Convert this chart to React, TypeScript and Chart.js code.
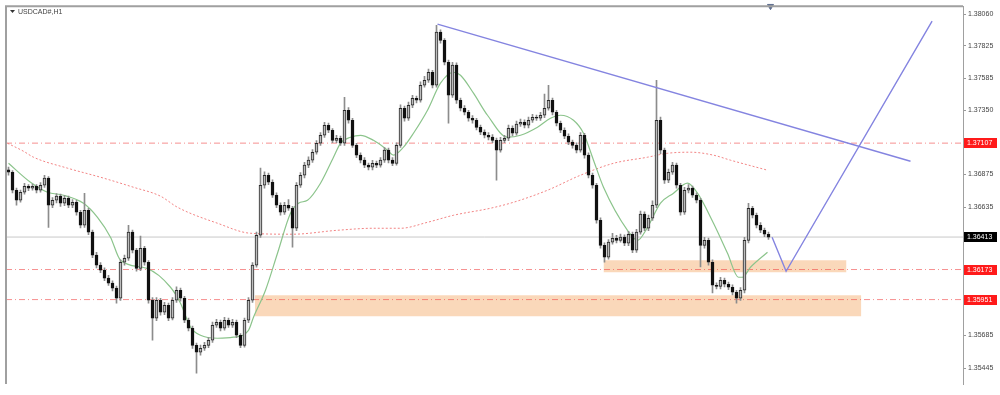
import React, { useEffect, useRef } from "react";
import { Chart, registerables } from "chart.js";

Chart.register(...registerables);

// ---- Candles (USDCAD#, H1) ----
const opens = [
  1.36910,1.36892,1.36759,1.36685,1.36744,1.36788,1.36774,1.36788,1.36759,1.36796,
  1.36848,1.36648,1.36685,1.36715,1.36663,1.36700,1.36648,1.36670,1.36596,1.36500,
  1.36611,1.36449,1.36279,1.36205,1.36168,1.36109,1.36072,1.36035,1.35961,1.36227,
  1.36256,1.36449,1.36316,1.36182,1.36330,1.36227,1.35946,1.35813,1.35946,1.35857,
  1.35909,1.35813,1.35946,1.36020,1.35961,1.35798,1.35739,1.35613,1.35562,1.35591,
  1.35613,1.35650,1.35761,1.35783,1.35739,1.35798,1.35761,1.35783,1.35687,1.35613,
  1.35798,1.35946,1.36205,1.36426,1.36796,1.36870,1.36818,1.36722,1.36648,1.36596,
  1.36648,1.36626,1.36478,1.36796,1.36870,1.36944,1.36981,1.37040,1.37106,1.37165,
  1.37239,1.37202,1.37128,1.37143,1.37106,1.37350,1.37276,1.37091,1.37018,1.36981,
  1.36944,1.36929,1.36958,1.36944,1.36981,1.37055,1.36981,1.36958,1.37091,1.37365,
  1.37291,1.37387,1.37439,1.37424,1.37535,1.37572,1.37631,1.37535,1.37927,1.37867,
  1.37705,1.37461,1.37683,1.37424,1.37365,1.37335,1.37291,1.37276,1.37224,1.37188,
  1.37165,1.37151,1.37128,1.37055,1.37128,1.37143,1.37217,1.37180,1.37247,1.37261,
  1.37239,1.37276,1.37298,1.37291,1.37313,1.37365,1.37424,1.37335,1.37254,1.37202,
  1.37158,1.37114,1.37091,1.37055,1.37165,1.37018,1.36870,1.36796,1.36537,1.36352,
  1.36264,1.36375,1.36404,1.36389,1.36412,1.36367,1.36434,1.36316,1.36449,1.36582,
  1.36478,1.36552,1.36648,1.37276,1.37055,1.36833,1.36892,1.36944,1.36796,1.36596,
  1.36759,1.36774,1.36722,1.36685,1.36352,1.36389,1.36227,1.36057,1.36049,1.36094,
  1.36064,1.36042,1.36005,1.35961,1.36020,1.36389,1.36626,1.36574,1.36500,1.36463,
  1.36434,
];
const highs = [
  1.36930,1.36905,1.36775,1.36760,1.36810,1.36800,1.36805,1.36800,1.36815,1.36870,
  1.36860,1.36705,1.36735,1.36730,1.36720,1.36715,1.36690,1.36685,1.36610,1.36737,
  1.36625,1.36465,1.36300,1.36225,1.36185,1.36130,1.36090,1.36050,1.36245,1.36280,
  1.36500,1.36465,1.36330,1.36420,1.36345,1.36240,1.35965,1.35965,1.35960,1.35930,
  1.35925,1.35965,1.36045,1.36035,1.35975,1.35815,1.35755,1.35630,1.35615,1.35635,
  1.35670,1.35785,1.35805,1.35800,1.35820,1.35815,1.35805,1.35800,1.35700,1.35815,
  1.35965,1.36225,1.36450,1.36922,1.36895,1.36885,1.36835,1.36740,1.36665,1.36670,
  1.36690,1.36640,1.36815,1.36890,1.36965,1.37005,1.37060,1.37125,1.37185,1.37260,
  1.37255,1.37215,1.37165,1.37160,1.37446,1.37370,1.37290,1.37105,1.37035,1.37000,
  1.36960,1.36980,1.36975,1.37000,1.37075,1.37070,1.37000,1.37110,1.37390,1.37380,
  1.37410,1.37460,1.37455,1.37560,1.37600,1.37655,1.37645,1.37978,1.37945,1.37880,
  1.37720,1.37705,1.37700,1.37440,1.37385,1.37350,1.37310,1.37290,1.37240,1.37205,
  1.37185,1.37170,1.37145,1.37150,1.37165,1.37240,1.37235,1.37270,1.37285,1.37280,
  1.37300,1.37320,1.37315,1.37335,1.37470,1.37535,1.37440,1.37350,1.37270,1.37220,
  1.37175,1.37130,1.37110,1.37185,1.37180,1.37035,1.36885,1.36810,1.36555,1.36370,
  1.36395,1.36440,1.36425,1.36435,1.36430,1.36455,1.36450,1.36470,1.36605,1.36600,
  1.36575,1.36680,1.37572,1.37300,1.37070,1.36915,1.36965,1.36960,1.36810,1.36780,
  1.36800,1.36790,1.36740,1.36700,1.36410,1.36405,1.36245,1.36075,1.36115,1.36110,
  1.36080,1.36060,1.36020,1.36040,1.36410,1.36663,1.36640,1.36590,1.36520,1.36480,
  1.36450,
];
const lows = [
  1.36870,1.36740,1.36648,1.36670,1.36730,1.36755,1.36760,1.36740,1.36745,1.36780,
  1.36485,1.36630,1.36665,1.36640,1.36645,1.36630,1.36630,1.36575,1.36480,1.36485,
  1.36430,1.36260,1.36185,1.36150,1.36090,1.36055,1.36015,1.35924,1.35945,1.36205,
  1.36240,1.36295,1.36160,1.36165,1.36205,1.35925,1.35650,1.35795,1.35835,1.35840,
  1.35795,1.35800,1.35930,1.35940,1.35780,1.35720,1.35590,1.35407,1.35540,1.35575,
  1.35595,1.35635,1.35745,1.35720,1.35725,1.35745,1.35745,1.35670,1.35595,1.35600,
  1.35780,1.35930,1.36190,1.36410,1.36775,1.36800,1.36705,1.36630,1.36575,1.36580,
  1.36610,1.36338,1.36460,1.36780,1.36850,1.36925,1.36965,1.37025,1.37090,1.37150,
  1.37185,1.37110,1.37110,1.37090,1.37090,1.37255,1.37075,1.37000,1.36960,1.36925,
  1.36910,1.36910,1.36925,1.36930,1.36965,1.36960,1.36940,1.36945,1.37075,1.37270,
  1.37275,1.37370,1.37405,1.37410,1.37520,1.37555,1.37515,1.37520,1.37845,1.37685,
  1.37254,1.37445,1.37400,1.37345,1.37315,1.37270,1.37255,1.37205,1.37170,1.37145,
  1.37130,1.37110,1.36833,1.37040,1.37110,1.37125,1.37160,1.37165,1.37230,1.37220,
  1.37220,1.37260,1.37275,1.37275,1.37295,1.37350,1.37315,1.37235,1.37185,1.37140,
  1.37095,1.37070,1.37035,1.37040,1.36995,1.36850,1.36775,1.36515,1.36330,1.36227,
  1.36250,1.36360,1.36370,1.36375,1.36350,1.36350,1.36297,1.36300,1.36435,1.36460,
  1.36460,1.36535,1.36630,1.37030,1.36810,1.36815,1.36875,1.36775,1.36575,1.36580,
  1.36740,1.36705,1.36665,1.36193,1.36330,1.36205,1.36001,1.36030,1.36030,1.36045,
  1.36025,1.35985,1.35924,1.35945,1.36000,1.36370,1.36555,1.36480,1.36445,1.36415,
  1.36395,
];
const closes = [
  1.36892,1.36759,1.36685,1.36744,1.36788,1.36774,1.36788,1.36759,1.36796,1.36848,
  1.36648,1.36685,1.36715,1.36663,1.36700,1.36648,1.36670,1.36596,1.36500,1.36611,
  1.36449,1.36279,1.36205,1.36168,1.36109,1.36072,1.36035,1.35961,1.36227,1.36256,
  1.36449,1.36316,1.36182,1.36330,1.36227,1.35946,1.35813,1.35946,1.35857,1.35909,
  1.35813,1.35946,1.36020,1.35961,1.35798,1.35739,1.35613,1.35562,1.35591,1.35613,
  1.35650,1.35761,1.35783,1.35739,1.35798,1.35761,1.35783,1.35687,1.35613,1.35798,
  1.35946,1.36205,1.36426,1.36796,1.36870,1.36818,1.36722,1.36648,1.36596,1.36648,
  1.36626,1.36478,1.36796,1.36870,1.36944,1.36981,1.37040,1.37106,1.37165,1.37239,
  1.37202,1.37128,1.37143,1.37106,1.37350,1.37276,1.37091,1.37018,1.36981,1.36944,
  1.36929,1.36958,1.36944,1.36981,1.37055,1.36981,1.36958,1.37091,1.37365,1.37291,
  1.37387,1.37439,1.37424,1.37535,1.37572,1.37631,1.37535,1.37927,1.37867,1.37705,
  1.37461,1.37683,1.37424,1.37365,1.37335,1.37291,1.37276,1.37224,1.37188,1.37165,
  1.37151,1.37128,1.37055,1.37128,1.37143,1.37217,1.37180,1.37247,1.37261,1.37239,
  1.37276,1.37298,1.37291,1.37313,1.37365,1.37424,1.37335,1.37254,1.37202,1.37158,
  1.37114,1.37091,1.37055,1.37165,1.37018,1.36870,1.36796,1.36537,1.36352,1.36264,
  1.36375,1.36404,1.36389,1.36412,1.36367,1.36434,1.36316,1.36449,1.36582,1.36478,
  1.36552,1.36648,1.37276,1.37055,1.36833,1.36892,1.36944,1.36796,1.36596,1.36759,
  1.36774,1.36722,1.36685,1.36352,1.36389,1.36227,1.36057,1.36049,1.36094,1.36064,
  1.36042,1.36005,1.35961,1.36020,1.36389,1.36626,1.36574,1.36500,1.36463,1.36434,
  1.36413,
];

// ---- Moving averages (bar index -> price) ----
const greenMaIdx = [0,5.5,9.75,13.75,18.75,22.25,25.5,28,34.5,40.5,43,45.5,48,52.25,56.25,60,61.25,64.25,67.25,70.5,72.5,74.75,78,81.25,83,85.5,88,91.25,94.75,96.25,98.75,101.25,104.75,108,111.25,113,116.25,119.75,124.75,128,132.25,135.5,138,141.25,143.75,146.25,148.75,154.75,157.25,159.75,163,166.25,169.75,172.25,176.25,179.75,182.5,183.5,185.5,189.75];
const greenMaVal = [1.36958,1.36818,1.36744,1.36722,1.36663,1.36559,1.36412,1.36242,1.36182,1.36042,1.35924,1.35747,1.35687,1.35665,1.35673,1.35724,1.35820,1.36020,1.36293,1.36589,1.36663,1.36685,1.36811,1.37003,1.37106,1.37151,1.37165,1.37128,1.37055,1.37018,1.37077,1.37180,1.37350,1.37550,1.37631,1.37609,1.37476,1.37313,1.37151,1.37165,1.37224,1.37291,1.37313,1.37276,1.37180,1.36981,1.36781,1.36463,1.36389,1.36485,1.36663,1.36737,1.36811,1.36737,1.36515,1.36293,1.36116,1.36116,1.36190,1.36301];
const redMaIdx = [-0.25,3.75,6.25,14.75,23,31.25,38,42.25,52.25,60.5,71,82.25,91.25,98,104.75,111.25,120.5,126.25,134.75,143,151.25,159.75,164.75,170.5,176.25,180.5,189.75];
const redMaVal = [1.37106,1.37047,1.37003,1.36922,1.36855,1.36781,1.36715,1.36633,1.36515,1.36441,1.36434,1.36463,1.36478,1.36478,1.36522,1.36574,1.36626,1.36670,1.36759,1.36870,1.36958,1.37003,1.37032,1.37040,1.37018,1.36981,1.36907];

// ---- Levels, zones, drawings ----
const levelValues = [1.37107, 1.36173, 1.35951];
const currentPrice = 1.36413;
const zoneStart = [148.75, 61.6];
const zoneEnd = [209.5, 213.2];
const zoneTop = [1.36242, 1.35983];
const zoneBottom = [1.36153, 1.35828];
const trendIdx = [107.25, 225.5];
const trendVal = [1.37986, 1.36973];
const projIdx = [190.9, 194.4, 230.9];
const projVal = [1.36412, 1.36160, 1.38008];
const yTicks = [1.38060, 1.37825, 1.37585, 1.37350, 1.36875, 1.36635, 1.35685, 1.35445];
const symbolTitle = "USDCAD#,H1";

const X_MIN = -0.625;
const X_MAX = 238.625;
const Y_MIN = 1.35327;
const Y_MAX = 1.38119;

const LEVEL_RED = "rgba(240,70,70,0.6)";

const xy = (xs: number[], ys: number[]) => xs.map((x, i) => ({ x, y: ys[i] }));

const overlayPlugin = {
  id: "overlay",
  afterDraw(chart: any) {
    const { ctx, chartArea: a, scales } = chart;
    const ys = scales.y;
    ctx.save();
    ctx.setLineDash([]);
    // frame (top + left)
    ctx.strokeStyle = "#a0a0a0";
    ctx.lineWidth = 2;
    ctx.beginPath();
    ctx.moveTo(a.left, a.bottom);
    ctx.lineTo(a.left, a.top);
    ctx.lineTo(a.right, a.top);
    ctx.stroke();
    // title
    ctx.fillStyle = "#333";
    ctx.beginPath();
    ctx.moveTo(10, 10);
    ctx.lineTo(15, 10);
    ctx.lineTo(12.5, 13);
    ctx.closePath();
    ctx.fill();
    ctx.font = '7px "Liberation Sans"';
    ctx.textBaseline = "middle";
    ctx.textAlign = "left";
    ctx.fillStyle = "#444";
    ctx.fillText(symbolTitle, 18, 12);
    // price tags
    const tag = (v: number, bg: string) => {
      const py = Math.round(ys.getPixelForValue(v));
      ctx.fillStyle = bg;
      ctx.fillRect(a.right + 1, py - 5, 33, 10);
      ctx.fillStyle = "#fff";
      ctx.font = '7px "Liberation Sans"';
      ctx.textAlign = "left";
      ctx.fillText(v.toFixed(5), a.right + 4, py + 0.5);
    };
    levelValues.forEach((v) => tag(v, "#ff1a1a"));
    tag(currentPrice, "#000");
    ctx.restore();
  },
};

export default function App() {
  const ref = useRef<HTMLCanvasElement>(null);
  useEffect(() => {
    if (!ref.current) return;
    const datasets: any[] = [];
    zoneStart.forEach((s, k) => {
      datasets.push({
        type: "line",
        data: [{ x: s, y: zoneTop[k] }, { x: zoneEnd[k], y: zoneTop[k] }],
        fill: { value: zoneBottom[k] },
        backgroundColor: "rgba(247,190,140,0.6)",
        borderColor: "rgba(247,190,140,0)",
        borderWidth: 1,
        pointRadius: 0,
        order: 20,
      });
    });
    levelValues.forEach((v) => {
      datasets.push({
        type: "line",
        data: [{ x: X_MIN, y: v }, { x: X_MAX, y: v }],
        borderColor: LEVEL_RED,
        backgroundColor: LEVEL_RED,
        borderWidth: 1,
        borderDash: [6, 3, 1, 3],
        pointRadius: 0,
        fill: false,
        order: 19,
      });
    });
    datasets.push({
      type: "line",
      data: [{ x: X_MIN, y: currentPrice }, { x: X_MAX, y: currentPrice }],
      borderColor: "#c8c8c8",
      backgroundColor: "#c8c8c8",
      borderWidth: 1,
      pointRadius: 0,
      fill: false,
      order: 18,
    });
    datasets.push({
      type: "line",
      data: xy(redMaIdx, redMaVal),
      borderColor: "rgba(240,110,110,0.85)",
      backgroundColor: "rgba(240,110,110,0.85)",
      borderWidth: 1,
      borderDash: [2, 2],
      pointRadius: 0,
      cubicInterpolationMode: "monotone",
      fill: false,
      order: 17,
    });
    datasets.push({
      type: "line",
      data: xy(greenMaIdx, greenMaVal),
      borderColor: "#8cc48c",
      backgroundColor: "#8cc48c",
      borderWidth: 1.2,
      pointRadius: 0,
      cubicInterpolationMode: "monotone",
      fill: false,
      order: 16,
    });
    datasets.push({
      type: "bar",
      data: opens.map((_, i) => ({ x: i, y: [lows[i], highs[i]] })),
      backgroundColor: "#8c8c8c",
      borderWidth: 0,
      barThickness: 1,
      grouped: false,
      order: 15,
    });
    datasets.push({
      type: "bar",
      data: opens.map((o, i) => ({ x: i, y: [o, closes[i]] })),
      backgroundColor: opens.map((o, i) => (closes[i] >= o ? "#bdbdbd" : "#111111")),
      borderColor: opens.map((o, i) => (closes[i] >= o ? "#2a2a2a" : "#111111")),
      borderWidth: 1,
      borderSkipped: false,
      barThickness: 3,
      minBarLength: 1,
      grouped: false,
      order: 14,
    });
    datasets.push({
      type: "line",
      data: xy(trendIdx, trendVal),
      borderColor: "rgb(132,132,224)",
      backgroundColor: "rgb(132,132,224)",
      borderWidth: 1.4,
      pointRadius: 0,
      fill: false,
      order: 2,
    });
    datasets.push({
      type: "line",
      data: xy(projIdx, projVal),
      borderColor: "rgb(132,132,224)",
      backgroundColor: "rgb(132,132,224)",
      borderWidth: 1.4,
      pointRadius: 0,
      fill: false,
      order: 2,
    });
    datasets.push({
      type: "scatter",
      data: [{ x: 190.5, y: Y_MAX }],
      pointStyle: "triangle",
      rotation: 180,
      radius: 3.5,
      backgroundColor: "#5f6f90",
      borderColor: "#5f6f90",
      clip: false,
      order: 1,
    });

    const chart = new Chart(ref.current, {
      type: "bar",
      data: { datasets },
      plugins: [overlayPlugin],
      options: {
        animation: false,
        responsive: false,
        devicePixelRatio: 1,
        events: [],
        layout: { padding: { left: 6, top: 6, right: 0, bottom: 11 } },
        plugins: {
          legend: { display: false },
          tooltip: { enabled: false },
          title: { display: false },
          colors: { enabled: false },
        },
        scales: {
          x: { type: "linear", min: X_MIN, max: X_MAX, display: false, offset: false },
          y: {
            type: "linear",
            position: "right",
            min: Y_MIN,
            max: Y_MAX,
            afterBuildTicks: (s: any) => {
              s.ticks = yTicks.map((v) => ({ value: v }));
            },
            afterFit: (s: any) => {
              s.width = 37;
            },
            ticks: {
              autoSkip: false,
              padding: 2,
              color: "#444",
              font: { size: 7, family: "Liberation Sans" },
              callback: (v: any) => Number(v).toFixed(5),
            },
            grid: { drawOnChartArea: false, tickLength: 3, color: "#999" },
            border: { display: true, color: "#a0a0a0", width: 1 },
          },
        },
      } as any,
    });
    return () => chart.destroy();
  }, []);
  return (
    <div style={{ position: "absolute", left: 0, top: 0, width: 1000, height: 395, background: "#fff" }}>
      <canvas ref={ref} width={1000} height={395} style={{ display: "block" }} />
    </div>
  );
}
